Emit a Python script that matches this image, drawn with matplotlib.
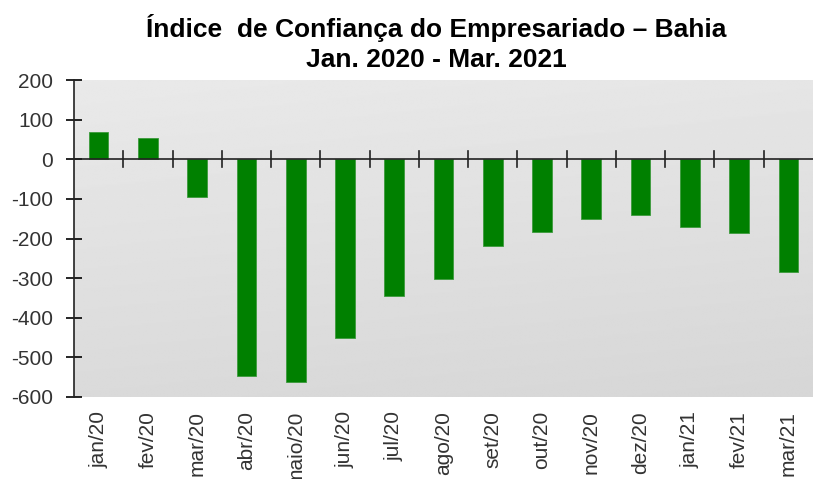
import numpy as np
import matplotlib.pyplot as plt

plt.rcParams['font.family'] = ['Liberation Sans', 'DejaVu Sans']
plt.rcParams['axes.unicode_minus'] = False

# Índice de Confiança do Empresariado - Bahia
meses = ['jan/20', 'fev/20', 'mar/20', 'abr/20', 'maio/20', 'jun/20', 'jul/20',
         'ago/20', 'set/20', 'out/20', 'nov/20', 'dez/20', 'jan/21', 'fev/21', 'mar/21']
valores = [70, 53, -95, -548, -561, -450, -346, -301, -220, -184, -151, -141, -171, -187, -285]

fig = plt.figure(figsize=(8.13, 4.79), dpi=100)
ax = fig.add_axes([74 / 813, 1 - 397 / 479, 739 / 813, 317 / 479])

# gray gradient background of the plot area (lighter at the top)
yy, xx = np.mgrid[0:1:200j, 0:1:200j]
grad = 0.915 - 0.06 * yy - 0.015 * xx
ax.imshow(grad, cmap='gray', vmin=0, vmax=1, extent=[0, 1, 0, 1],
          transform=ax.transAxes, aspect='auto', zorder=0, origin='upper')

x = np.arange(len(meses))
ax.bar(x, valores, width=0.4, color='#008000', edgecolor='#3c9a3c', lw=0.6, zorder=2)

ax.set_xlim(-0.5, len(meses) - 0.5)
ax.set_ylim(-600, 200)
ax.set_yticks(np.arange(-600, 201, 100))
ax.tick_params(axis='y', direction='inout', length=12, width=1.2, labelsize=15,
               labelcolor='#333333', pad=9)

# zero line with category separators
ax.axhline(0, color='#222222', lw=1.2, zorder=3)
for b in np.arange(0.5, len(meses) - 0.5, 1):
    ax.plot([b, b], [-20, 20], color='#222222', lw=1.2, zorder=3)

ax.set_xticks(x)
ax.set_xticklabels(meses, rotation=90, fontsize=15, color='#333333')
ax.tick_params(axis='x', length=0, pad=10)

for s in ['top', 'right', 'bottom']:
    ax.spines[s].set_visible(False)
ax.spines['left'].set_linewidth(1.2)
ax.spines['left'].set_color('#222222')

fig.text(436 / 813, 1 - 37 / 479, 'Índice  de Confiança do Empresariado – Bahia',
         ha='center', va='baseline', fontsize=19, fontweight='bold')
fig.text(436 / 813, 1 - 67 / 479, 'Jan. 2020 - Mar. 2021',
         ha='center', va='baseline', fontsize=19, fontweight='bold')

fig.savefig('out.png', dpi=100)
